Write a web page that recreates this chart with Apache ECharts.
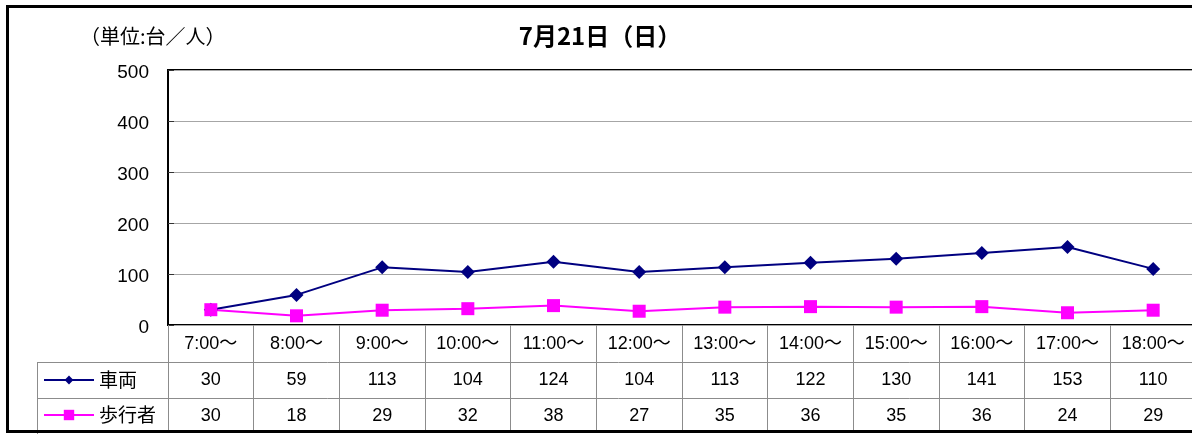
<!DOCTYPE html>
<html>
<head>
<meta charset="utf-8">
<title>7月21日（日）</title>
<script src="https://cdn.jsdelivr.net/npm/echarts@6/dist/echarts.min.js"></script>
<style>
  html, body { margin: 0; padding: 0; background: #fff; overflow: hidden; }
  body { width: 1192px; height: 434px; }
  #chart { width: 1200px; height: 434px; }
</style>
</head>
<body>
<div id="chart"></div>
<script>
// Hourly counts for the day
const categories = ['7:00～', '8:00～', '9:00～', '10:00～', '11:00～', '12:00～',
                    '13:00～', '14:00～', '15:00～', '16:00～', '17:00～', '18:00～'];
const vehicleName = '車両';
const pedestrianName = '歩行者';
const vehicles = [30, 59, 113, 104, 124, 104, 113, 122, 130, 141, 153, 110];
const pedestrians = [30, 18, 29, 32, 38, 27, 35, 36, 35, 36, 24, 29];
const yTicks = { min: 0, max: 500, interval: 100 };

const NUM_FONT = "'Liberation Sans', 'Noto Sans CJK JP', sans-serif";
const JP_FONT = "'Noto Sans CJK JP', 'Liberation Sans', sans-serif";
const NAVY = '#000080';
const MAGENTA = '#ff00ff';
const RULE = '#8c8c8c';

// Cells of the data table under the plot: [column, row, value]
const tableCells = [];
vehicles.forEach((v, i) => tableCells.push([i, 0, v]));
pedestrians.forEach((v, i) => tableCells.push([i, 1, v]));

const chart = echarts.init(document.getElementById('chart'), null, { renderer: 'canvas' });

const legendText = { fontFamily: JP_FONT, fontSize: 19, color: '#000', lineHeight: 20 };

chart.setOption({
  animation: false,
  backgroundColor: '#fff',
  title: [
    {
      text: '7月21日（日）',
      left: 'center',
      top: 19,
      textStyle: { fontFamily: JP_FONT, fontSize: 24, fontWeight: 'bold', color: '#000' }
    },
    {
      text: '（単位:台／人）',
      left: 75,
      top: 21,
      textStyle: { fontFamily: JP_FONT, fontSize: 20, fontWeight: 'normal', color: '#000' }
    }
  ],
  legend: [
    {
      data: [vehicleName], orient: 'vertical', left: 43, top: 370, padding: 0,
      itemWidth: 50, itemHeight: 11, selectedMode: false, textStyle: legendText
    },
    {
      data: [pedestrianName], orient: 'vertical', left: 43, top: 405, padding: 0,
      itemWidth: 50, itemHeight: 13, selectedMode: false, textStyle: legendText
    }
  ],
  grid: [
    {
      left: 168, top: 70, width: 1028, height: 255,
      show: true, borderColor: '#000', borderWidth: 2, backgroundColor: 'transparent'
    },
    { left: 168, top: 362, width: 1028, height: 72 }
  ],
  xAxis: [
    {
      type: 'category', gridIndex: 0, data: categories, boundaryGap: true,
      axisLine: { show: false },
      axisTick: { show: true, interval: 0, length: 107, lineStyle: { color: RULE, width: 1 } },
      axisLabel: { interval: 0, margin: 10, fontFamily: NUM_FONT, fontSize: 18, color: '#000' },
      splitLine: { show: false }
    },
    {
      type: 'category', gridIndex: 1, data: categories, boundaryGap: true, show: false
    }
  ],
  yAxis: [
    {
      type: 'value', gridIndex: 0, min: yTicks.min, max: yTicks.max, interval: yTicks.interval,
      axisLine: { show: false },
      axisTick: { show: true, inside: true, length: 6, lineStyle: { color: '#333' } },
      axisLabel: {
        margin: 19, color: '#000',
        formatter: '{v|{value}}',
        rich: { v: { fontFamily: NUM_FONT, fontSize: 19, color: '#000', padding: [5, 0, 0, 0] } }
      },
      splitLine: { show: true, lineStyle: { color: '#a6a6a6', width: 1 } }
    },
    {
      type: 'category', gridIndex: 1, data: [vehicleName, pedestrianName], inverse: true, show: false
    }
  ],
  series: [
    {
      name: vehicleName, type: 'line', xAxisIndex: 0, yAxisIndex: 0, data: vehicles,
      symbol: 'diamond', symbolSize: 14,
      lineStyle: { color: NAVY, width: 2 }, itemStyle: { color: NAVY }
    },
    {
      name: pedestrianName, type: 'line', xAxisIndex: 0, yAxisIndex: 0, data: pedestrians,
      symbol: 'rect', symbolSize: 13,
      lineStyle: { color: MAGENTA, width: 2 }, itemStyle: { color: MAGENTA }
    },
    {
      name: 'table', type: 'custom', xAxisIndex: 1, yAxisIndex: 1, data: tableCells,
      silent: true,
      renderItem: (params, api) => {
        const p = api.coord([api.value(0), api.value(1)]);
        return {
          type: 'text',
          x: p[0], y: p[1],
          style: {
            text: String(api.value(2)),
            fontFamily: NUM_FONT, fontSize: 18, fill: '#000',
            align: 'center', verticalAlign: 'middle'
          }
        };
      }
    }
  ],
  graphic: [
    // table rules on the left side and between rows
    { type: 'line', silent: true, shape: { x1: 37, y1: 362.5, x2: 1200, y2: 362.5 }, style: { stroke: RULE, lineWidth: 1 } },
    { type: 'line', silent: true, shape: { x1: 37, y1: 398.5, x2: 1200, y2: 398.5 }, style: { stroke: RULE, lineWidth: 1 } },
    { type: 'line', silent: true, shape: { x1: 37.5, y1: 362, x2: 37.5, y2: 434 }, style: { stroke: RULE, lineWidth: 1 } },
    // outer frame
    { type: 'rect', silent: true, z: 100, shape: { x: 7.5, y: 6.5, width: 1300, height: 425 },
      style: { fill: 'none', stroke: '#000', lineWidth: 3 } }
  ]
});
</script>
</body>
</html>
